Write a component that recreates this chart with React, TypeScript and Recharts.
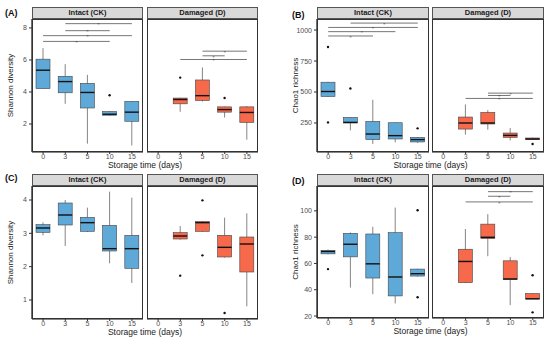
import { ComposedChart, Bar, XAxis, YAxis, ReferenceLine } from 'recharts';

const days = ['0', '3', '5', '10', '15'];

// box per day: [lower whisker, q1, median, q3, upper whisker]; null = no samples
const shannonCk = [[4.2, 4.21, 5.36, 6.05, 6.74], [3.26, 3.95, 4.65, 4.98, 5.74], [0.77, 3.0, 3.97, 4.54, 5.07], [2.52, 2.55, 2.61, 2.78, 2.8], [0.66, 2.17, 2.74, 3.41, 3.43]];
const shannonCkOut = [[], [], [], [3.8], []];
const shannonD = [null, [2.76, 3.26, 3.53, 3.62, 3.64], [3.4, 3.47, 3.77, 4.75, 5.53], [2.4, 2.74, 2.9, 3.07, 3.09], [1.02, 2.1, 2.72, 3.07, 3.12]];
const shannonDOut = [[], [4.9], [], [3.62], []];

const chaoCk = [[460, 464, 504, 579, 582], [191, 250, 255, 295, 298], [81, 116, 161, 263, 437], [94, 121, 148, 252, 254], [89, 97, 116, 134, 136]];
const chaoCkOut = [[863, 255], [528], [], [], [207]];
const chaoD = [null, [156, 201, 250, 298, 400], [196, 242, 250, 335, 354], [110, 134, 150, 169, 209], [114, 116, 121, 129, 131]];
const chaoDOut = [[], [], [], [], [81]];

const shannon2Ck = [[2.94, 3.03, 3.16, 3.26, 3.33], [2.62, 3.25, 3.55, 3.91, 4.0], [3.04, 3.06, 3.32, 3.48, 3.77], [2.1, 2.47, 2.54, 3.24, 4.25], [1.51, 1.95, 2.54, 2.94, 4.07]];
const shannon2CkOut = [[], [], [], [], []];
const shannon2D = [null, [2.81, 2.83, 2.92, 3.02, 3.22], [3.04, 3.06, 3.32, 3.35, 3.37], [2.27, 2.29, 2.58, 2.94, 3.47], [0.81, 1.84, 2.68, 2.89, 3.6]];
const shannon2DOut = [[], [1.73], [3.99, 2.34], [0.61], []];

const chao2Ck = [[67, 67.3, 69.1, 69.8, 70.6], [41.6, 65.0, 74.6, 82.9, 83.6], [36.6, 48.9, 59.7, 82.4, 87.9], [29.6, 35.3, 49.7, 83.4, 102.5], [50, 50.4, 52.2, 55.7, 56]];
const chao2CkOut = [[55.7], [], [], [], [100.5, 34.3]];
const chao2D = [null, [45, 45.4, 61.5, 70.8, 86.2], [65.5, 78.9, 79.9, 89.9, 97.5], [28.3, 47.7, 48.2, 62.0, 64.8], [32.8, 33, 33.1, 37.1, 37.4]];
const chao2DOut = [[], [], [], [], [51, 22.8]];

// significance brackets: [from day, to day, height]
const sigA_Ck = [['3', '15', 8.27], ['3', '10', 7.83], ['0', '15', 7.52], ['0', '10', 7.16]];
const sigA_D = [['5', '15', 6.55], ['5', '10', 6.26], ['3', '15', 6.03]];
const sigB_Ck = [['3', '15', 1056], ['0', '15', 1021], ['0', '10', 987], ['0', '5', 952]];
const sigB_D = [['5', '15', 491], ['5', '10', 472], ['3', '15', 448]];
const sigD_D = [['5', '15', 114.6], ['5', '10', 111.1], ['3', '15', 106.8]];

const BLUE = '#5fa9d9';
const RED = '#f7694b';
const FONT = '"Liberation Sans", Arial, sans-serif';

const makeRows = (boxes: any[], outs: number[][]) =>
  days.map((d, i) => ({
    day: d,
    range: boxes[i] ? [boxes[i][0], boxes[i][4]] : null,
    box: boxes[i],
    out: outs[i],
  }));

const BoxShape = (props: any) => {
  const { x, y, width, height, payload, color } = props;
  const b = payload && payload.box;
  if (!b) return null;
  const top = Math.min(y, y + height);
  const h = Math.abs(height);
  const lo = b[0];
  const hi = b[4];
  const py = (v: number) => top + (h * (hi - v)) / (hi - lo);
  const cx = x + width / 2;
  return (
    <g>
      <line x1={cx} x2={cx} y1={py(hi)} y2={py(lo)} stroke="#777" strokeWidth={0.9} />
      <rect x={x} y={py(b[3])} width={width} height={py(b[1]) - py(b[3])} fill={color} stroke="#444" strokeWidth={0.6} />
      <line x1={x} x2={x + width} y1={py(b[2])} y2={py(b[2])} stroke="#111" strokeWidth={1.4} />
      {payload.out.map((o: number, k: number) => (
        <circle key={k} cx={cx} cy={py(o)} r={1.2} fill="#111" />
      ))}
    </g>
  );
};

const Facet = ({ left, top, pw, ph, yw, domain, ticks, rows, color, sigs, title, stripTop, ytitle }: any) => (
  <>
    <div
      style={{
        position: 'absolute', left, top: stripTop, width: pw, height: top - stripTop,
        background: '#d9d9d9', border: '1px solid #555', boxSizing: 'border-box',
        font: `bold 7.5px ${FONT}`, color: '#1a1a1a', textAlign: 'center', lineHeight: `${top - stripTop - 2}px`,
      }}
    >
      {title}
    </div>
    <div style={{ position: 'absolute', left: left - yw, top }}>
      <ComposedChart width={pw + yw} height={ph + 14} data={rows} margin={{ top: 0, right: 0, bottom: 0, left: 0 }}>
        <XAxis
          dataKey="day" type="category" height={14} tickSize={2} tickMargin={0}
          tick={{ fontSize: 7, fill: '#4d4d4d', fontFamily: FONT }}
          axisLine={{ stroke: '#111', strokeWidth: 1.2 }} tickLine={{ stroke: '#333' }}
        />
        <YAxis
          hide={yw === 0} width={yw} type="number" domain={domain} ticks={ticks} allowDataOverflow
          tickSize={3} tickMargin={2}
          tick={{ fontSize: 7, fill: '#4d4d4d', fontFamily: FONT }}
          axisLine={{ stroke: '#111', strokeWidth: 1.2 }} tickLine={{ stroke: '#333' }}
          label={yw ? { value: ytitle, angle: -90, position: 'insideLeft', offset: yw - 22, style: { textAnchor: 'middle', fontSize: 8, fill: '#222', fontFamily: FONT } } : undefined}
        />
        {sigs.map((s: any, i: number) => (
          <ReferenceLine
            key={i}
            segment={[{ x: s[0], y: s[2] }, { x: s[1], y: s[2] }]}
            stroke="#666" strokeWidth={0.9}
            label={{ value: '*', position: 'center', fontSize: 5, fill: '#333', dy: 1 }}
          />
        ))}
        <Bar dataKey="range" barSize={14} isAnimationActive={false} shape={(p: any) => <BoxShape {...p} color={color} />} />
      </ComposedChart>
    </div>
    <div style={{ position: 'absolute', left, top, width: pw, height: ph, border: '1px solid #333', boxSizing: 'border-box', pointerEvents: 'none' }} />
  </>
);

const Panel = ({ tag, tagX, tagY, ckLeft, dLeft, pw, top, ph, stripTop, yw, domain, ticks, ck, d, sigCk, sigD, ytitle }: any) => (
  <>
    <div style={{ position: 'absolute', left: tagX, top: tagY, font: `bold 9px ${FONT}`, color: '#111' }}>{tag}</div>
    <Facet left={ckLeft} top={top} pw={pw} ph={ph} yw={yw} domain={domain} ticks={ticks} rows={ck} color={BLUE} sigs={sigCk} title="Intact (CK)" stripTop={stripTop} ytitle={ytitle} />
    <Facet left={dLeft} top={top} pw={pw} ph={ph} yw={0} domain={domain} ticks={ticks} rows={d} color={RED} sigs={sigD} title="Damaged (D)" stripTop={stripTop} />
    <div style={{ position: 'absolute', left: ckLeft, top: top + ph + 9, width: dLeft + pw - ckLeft, textAlign: 'center', font: `8.5px ${FONT}`, lineHeight: '8px', color: '#222' }}>
      Storage time (days)
    </div>
  </>
);

export default function App() {
  return (
    <div style={{ position: 'absolute', left: 0, top: 0, width: 550, height: 340, background: '#fff', overflow: 'hidden' }}>
      <Panel tag="(A)" tagX={5} tagY={8} ckLeft={32} dLeft={147} pw={111} top={19} ph={133} stripTop={7} yw={32}
        domain={[0.25, 8.56]} ticks={[2, 4, 6, 8]} ck={makeRows(shannonCk, shannonCkOut)} d={makeRows(shannonD, shannonDOut)}
        sigCk={sigA_Ck} sigD={sigA_D} ytitle="Shannon diversity" />
      <Panel tag="(B)" tagX={292} tagY={10} ckLeft={317} dLeft={432} pw={112} top={19} ph={133} stripTop={7} yw={42}
        domain={[16, 1089]} ticks={[250, 500, 750, 1000]} ck={makeRows(chaoCk, chaoCkOut)} d={makeRows(chaoD, chaoDOut)}
        sigCk={sigB_Ck} sigD={sigB_D} ytitle="Chao1 richness" />
      <Panel tag="(C)" tagX={5} tagY={173} ckLeft={32} dLeft={147} pw={111} top={186} ph={133} stripTop={174} yw={32}
        domain={[0.43, 4.42]} ticks={[1, 2, 3, 4]} ck={makeRows(shannon2Ck, shannon2CkOut)} d={makeRows(shannon2D, shannon2DOut)}
        sigCk={[]} sigD={[]} ytitle="Shannon diversity" />
      <Panel tag="(D)" tagX={292} tagY={176} ckLeft={317} dLeft={432} pw={112} top={186} ph={132} stripTop={174} yw={42}
        domain={[18.5, 118.9]} ticks={[20, 40, 60, 80, 100]} ck={makeRows(chao2Ck, chao2CkOut)} d={makeRows(chao2D, chao2DOut)}
        sigCk={[]} sigD={sigD_D} ytitle="Chao1 richness" />
    </div>
  );
}
